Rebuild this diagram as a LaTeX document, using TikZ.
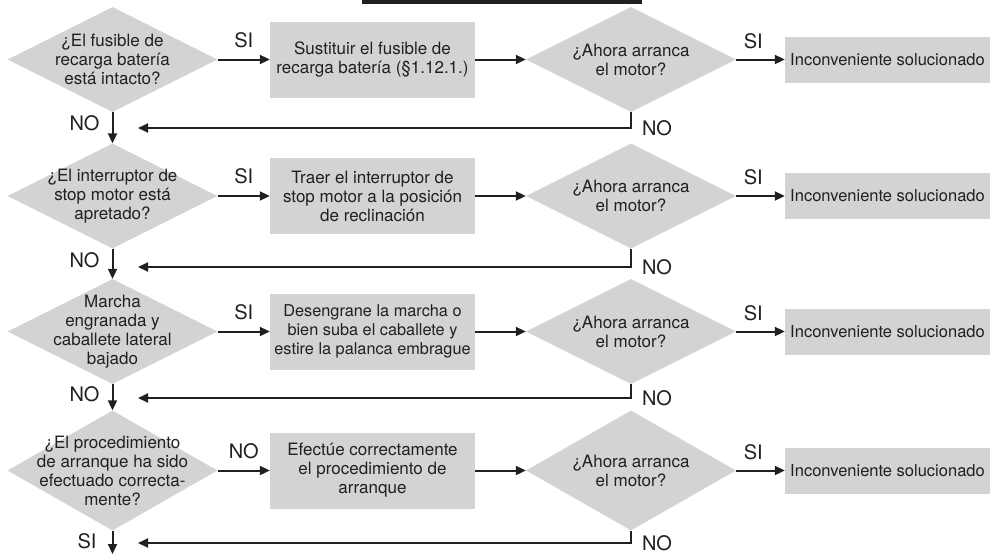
\documentclass[tikz,border=0pt]{standalone}
\usepackage{fontspec}
\setmainfont{TeX Gyre Heros}
\usetikzlibrary{arrows.meta,shapes.geometric}
\definecolor{boxgray}{RGB}{209,211,212}
\definecolor{ink}{RGB}{35,31,32}

\begin{document}
\begin{tikzpicture}[x=1pt,y=-1pt,
  decision/.style={diamond,fill=boxgray,inner sep=0pt,minimum width=210pt,minimum height=105pt},
  qtext/.style={align=center,text=ink,inner sep=0pt,font=\fontsize{17}{19}\selectfont},
  action/.style={rectangle,fill=boxgray,minimum width=205pt,minimum height=76pt,align=center,text=ink,inner sep=2pt,font=\fontsize{17}{19}\selectfont},
  done/.style={rectangle,fill=boxgray,minimum width=205pt,minimum height=46pt,text=ink,inner sep=2pt,font=\fontsize{16.5}{18}\selectfont},
  lbl/.style={text=ink,inner sep=0pt,font=\fontsize{20}{22}\selectfont},
  flow/.style={draw=ink,line width=2pt,-{Triangle[length=10pt,width=9pt]}}]
  \useasboundingbox (0,0) rectangle (990,555);
  % cut title bar
  \fill[ink] (362,0) rectangle (642,3.5);
  % Row 1: fusible
  \node[decision] (q1) at (112.5,59.5) {};
  \node[qtext] (q1t) at (q1) {¿El fusible de\\recarga batería\\está intacto?};
  \node[action] (a1) at (372.5,59.5) {Sustituir el fusible de\\recarga batería (§1.12.1.)};
  \node[decision] (m1) at (631,59.5) {};
  \node[qtext] (m1t) at (m1) {¿Ahora arranca\\el motor?};
  \node[done] (s1) at (887.5,59.5) {Inconveniente solucionado};
  % Row 2: interruptor de stop
  \node[decision] (q2) at (112.5,196) {};
  \node[qtext] (q2t) at (q2) {¿El interruptor de\\stop motor está\\apretado?};
  \node[action] (a2) at (372.5,196) {Traer el interruptor de\\stop motor a la posición\\de reclinación};
  \node[decision] (m2) at (631,196) {};
  \node[qtext] (m2t) at (m2) {¿Ahora arranca\\el motor?};
  \node[done] (s2) at (887.5,196) {Inconveniente solucionado};
  % Row 3: marcha y caballete
  \node[decision] (q3) at (112.5,331.5) {};
  \node[qtext] (q3t) at (q3) {Marcha\\engranada y\\caballete lateral\\bajado};
  \node[action,font=\fontsize{16.3}{19}\selectfont] (a3) at (372.5,331.5) {Desengrane la marcha o\\bien suba el caballete y\\estire la palanca embrague};
  \node[decision] (m3) at (631,331.5) {};
  \node[qtext] (m3t) at (m3) {¿Ahora arranca\\el motor?};
  \node[done] (s3) at (887.5,331.5) {Inconveniente solucionado};
  % Row 4: procedimiento de arranque
  \node[decision,minimum height=120pt] (q4) at (112.5,470.5) {};
  \node[qtext] (q4t) at (q4) {¿El procedimiento\\de arranque ha sido\\efectuado correcta-\\mente?};
  \node[action] (a4) at (372.5,470.5) {Efectúe correctamente\\el procedimiento de\\arranque};
  \node[decision,minimum height=120pt] (m4) at (631,470.5) {};
  \node[qtext] (m4t) at (m4) {¿Ahora arranca\\el motor?};
  \node[done] (s4) at (887.5,470.5) {Inconveniente solucionado};
  % return points of the NO loops
  \coordinate (b1) at (138,128);
  \coordinate (b2) at (138,267);
  \coordinate (b3) at (138,398);
  \coordinate (b4) at (138,543);
  \coordinate (e4) at (112.5,554);
  % Connectors along each row
  \draw[flow] (q1.east) -- (a1.west) node[lbl,midway,above=11pt] (l1) {SI};
  \draw[flow] (a1.east) -- (m1.west);
  \draw[flow] (m1.east) -- (s1.west) node[lbl,pos=0.35,above=10pt] (k1) {SI};
  \draw[flow] (q2.east) -- (a2.west) node[lbl,midway,above=11pt] (l2) {SI};
  \draw[flow] (a2.east) -- (m2.west);
  \draw[flow] (m2.east) -- (s2.west) node[lbl,pos=0.35,above=10pt] (k2) {SI};
  \draw[flow] (q3.east) -- (a3.west) node[lbl,midway,above=11pt] (l3) {SI};
  \draw[flow] (a3.east) -- (m3.west);
  \draw[flow] (m3.east) -- (s3.west) node[lbl,pos=0.35,above=10pt] (k3) {SI};
  \draw[flow] (q4.east) -- (a4.west) node[lbl,midway,above=11pt] (l4) {NO};
  \draw[flow] (a4.east) -- (m4.west);
  \draw[flow] (m4.east) -- (s4.west) node[lbl,pos=0.35,above=10pt] (k4) {SI};
  % NO loops back to the left column
  \draw[flow] (m1.south) |- (b1) node[lbl,pos=0.5,right=10pt] (r1) {NO};
  \draw[flow] (m2.south) |- (b2) node[lbl,pos=0.5,right=10pt] (r2) {NO};
  \draw[flow] (m3.south) |- (b3) node[lbl,pos=0.5,right=10pt] (r3) {NO};
  \draw[flow] (m4.south) |- (b4) node[lbl,pos=0.5,right=10pt] (r4) {NO};
  % Left column
  \draw[flow] (q1.south) -- (q2.north) node[lbl,pos=0.35,left=12pt] (n1) {NO};
  \draw[flow] (q2.south) -- (q3.north) node[lbl,pos=0.38,left=12pt] (n2) {NO};
  \draw[flow] (q3.south) -- (q4.north) node[lbl,pos=0.38,left=12pt] (n3) {NO};
  \draw[flow] (q4.south) -- (e4) node[lbl,pos=0.45,left=15pt] (n4) {SI};
\end{tikzpicture}
\end{document}
